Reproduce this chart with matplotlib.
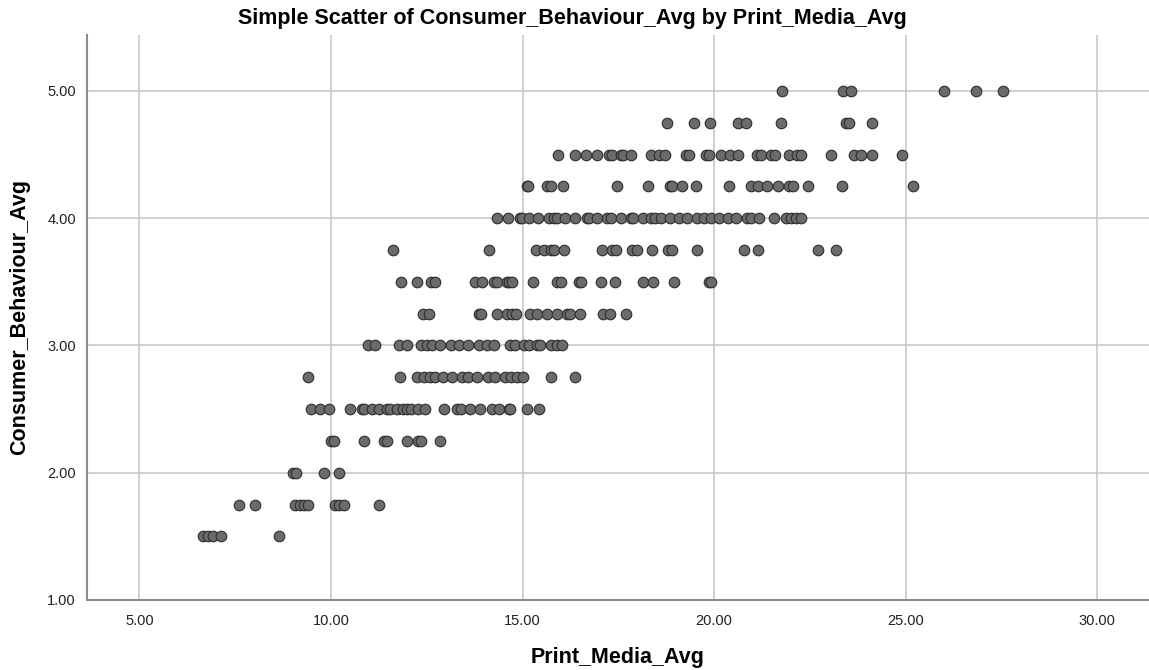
import numpy as np
import matplotlib
matplotlib.use("Agg")
from matplotlib import pyplot as plt

# Print_Media_Avg values for every Consumer_Behaviour_Avg level
pm_500 = [21.77, 23.35, 23.57, 26.01, 26.83, 27.53]
pm_475 = [18.78, 19.48, 19.89, 20.62, 20.82, 21.74, 23.44, 23.52, 24.11]
pm_450 = [15.92, 16.37, 16.66, 16.95, 17.25, 17.34, 17.56, 17.63, 17.84,
          18.36, 18.56, 18.73, 19.26, 19.35, 19.78, 19.87, 20.17, 20.42,
          20.63, 21.13, 21.22, 21.48, 21.58, 21.96, 22.16, 22.26, 23.05,
          23.66, 23.83, 24.13, 24.89]
pm_425 = [15.12, 15.14, 15.63, 15.73, 16.06, 17.47, 18.27, 18.85, 18.91,
          19.17, 19.52, 20.39, 20.97, 21.15, 21.39, 21.67, 21.96, 22.07,
          22.45, 23.33, 25.18]
pm_400 = [14.34, 14.62, 14.92, 14.99, 15.16, 15.40, 15.69, 15.82, 15.90,
          16.10, 16.38, 16.69, 16.73, 16.95, 17.21, 17.31, 17.56, 17.82,
          17.89, 18.13, 18.34, 18.45, 18.60, 18.85, 19.08, 19.30, 19.54,
          19.74, 19.93, 20.13, 20.35, 20.56, 20.87, 20.95, 21.17, 21.56,
          21.87, 22.00, 22.13, 22.26]
pm_375 = [11.62, 14.12, 15.34, 15.56, 15.73, 15.83, 16.08, 17.08, 17.34,
          17.43, 17.86, 17.99, 18.39, 18.80, 18.91, 19.55, 20.78, 21.15,
          22.71, 23.18]
pm_350 = [11.83, 12.25, 12.61, 12.72, 13.77, 13.94, 14.25, 14.32, 14.58,
          14.64, 14.73, 15.28, 15.90, 15.99, 16.47, 16.53, 17.04, 17.40,
          18.15, 18.41, 18.95, 19.87, 19.91]
pm_325 = [12.40, 12.55, 13.86, 13.92, 14.34, 14.60, 14.73, 14.84, 15.19,
          15.38, 15.64, 15.90, 16.16, 16.25, 16.51, 17.11, 17.28, 17.69]
pm_300 = [10.96, 11.16, 11.77, 11.98, 12.35, 12.51, 12.64, 12.85, 13.12,
          13.33, 13.57, 13.86, 14.07, 14.25, 14.68, 14.81, 15.03, 15.16,
          15.38, 15.45, 15.73, 15.90, 16.03]
pm_275 = [9.39, 11.81, 12.24, 12.42, 12.58, 12.72, 12.92, 13.16, 13.42,
          13.57, 13.81, 14.09, 14.29, 14.53, 14.70, 14.86, 15.01, 15.73,
          16.36]
pm_250 = [9.48, 9.70, 9.94, 10.50, 10.81, 10.85, 11.07, 11.24, 11.46, 11.53,
          11.72, 11.88, 11.98, 12.09, 12.26, 12.46, 12.96, 13.29, 13.38,
          13.64, 13.90, 14.21, 14.38, 14.64, 14.68, 15.12, 15.42]
pm_225 = [10.01, 10.09, 10.87, 11.37, 11.46, 11.97, 12.26, 12.35, 12.84]
pm_200 = [9.02, 9.09, 9.82, 10.22]
pm_175 = [7.61, 8.01, 9.07, 9.20, 9.30, 9.41, 10.11, 10.22, 10.35, 11.26]
pm_150 = [6.65, 6.78, 6.93, 7.12, 8.63]

cb_levels = [5.00, 4.75, 4.50, 4.25, 4.00, 3.75, 3.50, 3.25, 3.00, 2.75,
             2.50, 2.25, 2.00, 1.75, 1.50]
pm_rows = [pm_500, pm_475, pm_450, pm_425, pm_400, pm_375, pm_350, pm_325,
           pm_300, pm_275, pm_250, pm_225, pm_200, pm_175, pm_150]

x_ticks = [5, 10, 15, 20, 25, 30]
y_ticks = [1, 2, 3, 4, 5]

print_media = np.concatenate([np.array(r, dtype=float) for r in pm_rows])
consumer = np.concatenate([np.full(len(r), lvl) for r, lvl in zip(pm_rows, cb_levels)])

plt.rcParams['font.family'] = ['Liberation Sans', 'DejaVu Sans']

fig = plt.figure(figsize=(11.49, 6.70), dpi=100)
ax = fig.add_axes([0.0757, 0.1045, 0.9243, 0.8433])

ax.scatter(print_media, consumer, s=58, facecolor='#6b6b6b',
           edgecolor='#2e2e2e', linewidths=0.8, zorder=3)

ax.set_xlim(3.63, 31.35)
ax.set_ylim(1.0, 5.44)
ax.set_xticks(x_ticks)
ax.set_yticks(y_ticks)
ax.set_xticklabels([f"{t:.2f}" for t in x_ticks])
ax.set_yticklabels([f"{t:.2f}" for t in y_ticks])
ax.tick_params(length=0, labelsize=10.5, colors='#222222')
ax.tick_params(axis='x', pad=10)
ax.tick_params(axis='y', pad=8)

ax.grid(True, color='#c8c8c8', linewidth=1.2, zorder=0)
ax.set_axisbelow(True)
for side in ['top', 'right']:
    ax.spines[side].set_visible(False)
for side in ['left', 'bottom']:
    ax.spines[side].set_color('#8c8c8c')
    ax.spines[side].set_linewidth(1.5)

ax.set_xlabel("Print_Media_Avg", fontsize=15.5, fontweight='bold')
ax.set_ylabel("Consumer_Behaviour_Avg", fontsize=15.5, fontweight='bold')
ax.xaxis.set_label_coords(0.5, -0.101)
ax.xaxis.label.set_va('center')
ax.yaxis.set_label_coords(-0.063, 0.5)
ax.yaxis.label.set_va('center')
fig.text(0.4985, 0.973, "Simple Scatter of Consumer_Behaviour_Avg by Print_Media_Avg",
         ha='center', va='center', fontsize=15.5, fontweight='bold')

fig.savefig("out.png", dpi=100)
